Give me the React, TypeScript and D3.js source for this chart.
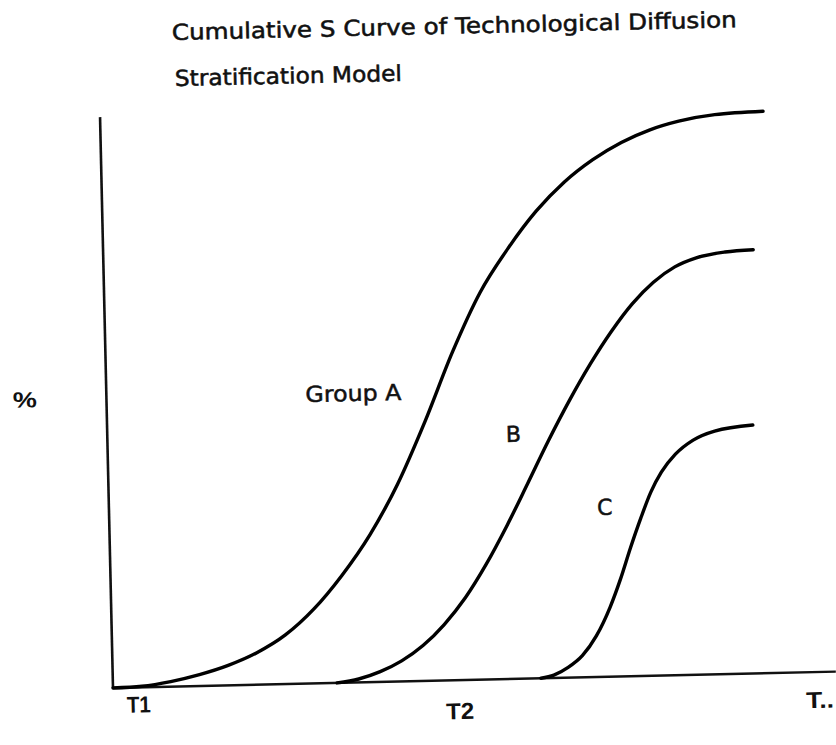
import React from "react";
import * as d3 from "d3";

// Time axis in arbitrary units (0..100), adoption in percent (0..100)
const groupA: [number, number][] = [
  [0, 0], [4, 0.2], [8, 0.9], [12, 2.0], [16, 3.5], [20, 5.6], [24, 8.6],
  [28, 13.0], [32, 18.8], [36, 25.8], [40, 34.6], [44, 45.5], [48, 57.5],
  [52, 67.8], [56, 75.4], [60, 81.8], [64, 86.8], [68, 90.6], [72, 93.5],
  [76, 95.6], [80, 97.0], [85, 98.0], [91.7, 98.4],
];
const groupB: [number, number][] = [
  [31, 0], [34, 0.6], [37, 1.8], [40, 3.6], [43, 6.2], [46, 9.8], [49, 14.4],
  [52, 20.2], [55, 26.9], [58, 34.2], [61, 41.6], [64, 48.5], [67, 54.8],
  [70, 60.4], [73, 65.2], [76, 68.9], [79, 71.5], [82, 73.0], [86, 73.9],
  [89.9, 74.2],
];
const groupC: [number, number][] = [
  [59.2, 0], [61, 0.5], [63, 1.8], [65, 3.8], [67, 7.2], [69, 12.2],
  [70.5, 17.0], [72, 22.5], [73.5, 27.6], [75, 32.2], [76.5, 35.6],
  [78.5, 38.7], [81, 41.1], [84, 42.6], [89.3, 43.5],
];
const seriesList = [groupA, groupB, groupC];
const titleLines = ["Cumulative S Curve of Technological Diffusion", "Stratification Model"];
const curveLabels = ["Group A", "B", "C"];
const timeLabels = ["T1", "T2", "T.."];
const yLabel = "%";

const W = 836;
const H = 745;
const ORIGIN = { x: 113, y: 688 };
const TILT = -1.3;

export default function App() {
  const x = d3.scaleLinear().domain([0, 100]).range([ORIGIN.x, 836]);
  const y = d3.scaleLinear().domain([0, 100]).range([ORIGIN.y, 117]);
  const line = d3
    .line<[number, number]>()
    .x((d) => x(d[0]))
    .y((d) => y(d[1]))
    .curve(d3.curveMonotoneX);

  const font = "'DejaVu Sans', 'Liberation Sans', Arial, sans-serif";
  const boldFont = "'Liberation Sans', Arial, sans-serif";

  const labelPos = [
    { x: 312, y: 406.5, len: 96 },
    { x: 511.5, y: 451, len: 0 },
    { x: 601, y: 526, len: 0 },
  ];
  const tPos = [
    { x: 126.5, y: 713, len: 24 },
    { x: 445.5, y: 727, len: 28 },
    { x: 805.5, y: 724, len: 28 },
  ];

  return (
    <svg
      width={W}
      height={H}
      style={{ position: "absolute", left: 0, top: 0, background: "#fff" }}
    >
      <rect width={W} height={H} fill="#fff" />
      <g transform={`rotate(${TILT}, ${ORIGIN.x}, ${ORIGIN.y})`}>
        <g fill="#111" stroke="#111" strokeWidth={0.55} fontFamily={font} fontSize={22}>
          <text x={186.7} y={41.5} textLength={565} lengthAdjust="spacingAndGlyphs">{titleLines[0]}</text>
          <text x={188.7} y={87.6} textLength={227} lengthAdjust="spacingAndGlyphs">{titleLines[1]}</text>
        </g>

        {/* axes */}
        <line x1={x(0)} y1={y(0)} x2={x(100)} y2={y(0)} stroke="#111" strokeWidth={2.4} />
        <line x1={x(0)} y1={y(0)} x2={x(0)} y2={y(100)} stroke="#111" strokeWidth={2.6} />

        {seriesList.map((s, i) => (
          <path key={i} d={line(s) || ""} fill="none" stroke="#000" strokeWidth={3.4}
            strokeLinecap="round" strokeLinejoin="round" />
        ))}

        <g fill="#111" stroke="#111" strokeWidth={0.5} fontFamily={font} fontSize={22}>
          {curveLabels.map((t, i) => (
            <text key={t} x={labelPos[i].x} y={labelPos[i].y}
              {...(labelPos[i].len ? { textLength: labelPos[i].len, lengthAdjust: "spacingAndGlyphs" } : {})}>
              {t}
            </text>
          ))}
        </g>

        <text x={19.3} y={405.5} fontFamily={boldFont} fontWeight="bold" fontSize={22}
          fill="#111" textLength={24} lengthAdjust="spacingAndGlyphs">{yLabel}</text>

        {timeLabels.map((t, i) => (
          <text key={t} x={tPos[i].x} y={tPos[i].y} fontFamily={boldFont} fontWeight="bold"
            fontSize={23} fill="#111" textLength={tPos[i].len} lengthAdjust="spacingAndGlyphs">
            {t}
          </text>
        ))}
      </g>
    </svg>
  );
}
